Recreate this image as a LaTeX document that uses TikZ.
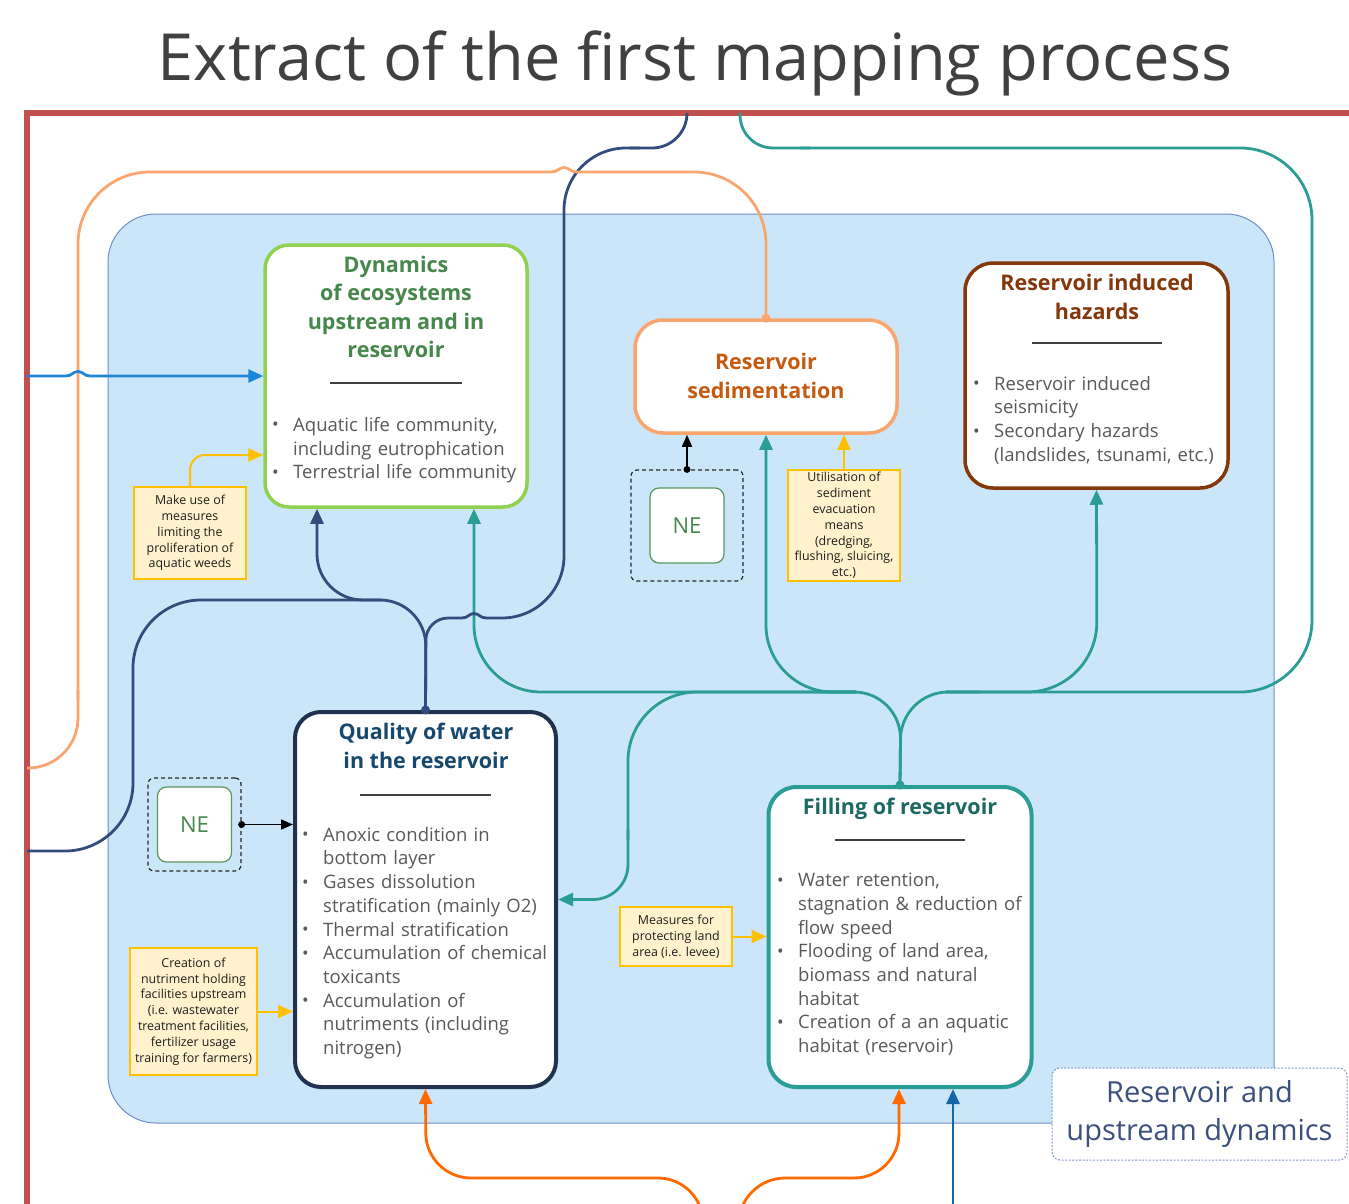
\documentclass[tikz,border=0pt]{standalone}
\usepackage{fontspec}
\setmainfont{Open Sans}
\usetikzlibrary{arrows.meta,calc}

\definecolor{framered}{RGB}{192,80,77}
\definecolor{bgblue}{RGB}{204,230,249}
\definecolor{bgedge}{RGB}{110,140,200}
\definecolor{ecogreen}{RGB}{146,208,80}
\definecolor{ecotext}{RGB}{70,135,75}
\definecolor{sedorange}{RGB}{250,165,110}
\definecolor{sedtext}{RGB}{197,90,17}
\definecolor{hazbrown}{RGB}{132,55,10}
\definecolor{qualnavy}{RGB}{32,50,80}
\definecolor{qualtext}{RGB}{22,72,110}
\definecolor{fillteal}{RGB}{42,157,150}
\definecolor{filltext}{RGB}{28,105,100}
\definecolor{linknavy}{RGB}{50,77,125}
\definecolor{linkblue}{RGB}{27,135,214}
\definecolor{notefill}{RGB}{255,242,204}
\definecolor{noteedge}{RGB}{255,192,0}
\definecolor{notetext}{RGB}{30,30,30}
\definecolor{bodygray}{RGB}{89,89,89}
\definecolor{negreen}{RGB}{90,150,90}
\definecolor{netext}{RGB}{70,135,75}
\definecolor{lowblue}{RGB}{20,104,168}
\definecolor{loworange}{RGB}{255,106,0}
\definecolor{tagtext}{RGB}{60,80,125}
\definecolor{tagedge}{RGB}{130,155,205}
\definecolor{titlegray}{RGB}{64,64,64}

% one bullet line with hanging indent
\newcommand{\bul}[1]{\hangindent=21pt\hangafter=1\noindent\makebox[21pt][l]{\raisebox{0.5pt}{\scalebox{0.95}{\textbullet}}}#1\par}

\begin{document}
\begin{tikzpicture}[x=1pt,y=-1pt,
  box/.style={draw,fill=white,line width=3.5pt,inner sep=0pt},
  head/.style={align=center,font=\fontsize{21.5}{28.5}\selectfont\bfseries},
  items/.style={anchor=north west,inner sep=0pt,text width=280pt,align=left,text=bodygray,font=\fontsize{18.5}{23.7}\selectfont},
  note/.style={draw=noteedge,fill=notefill,line width=1.3pt,inner sep=0pt,align=center,text=notetext,font=\fontsize{12.4}{15.8}\selectfont},
  nebox/.style={draw=negreen,fill=white,line width=1.2pt,rounded corners=9pt,minimum width=74pt,minimum height=75pt,text=netext,font=\fontsize{22}{26}\selectfont},
  neframe/.style={draw=black!85,dash pattern=on 4pt off 3pt,line width=1.2pt,rounded corners=6pt},
  link/.style={line width=2.8pt},
  tip/.style={-{Triangle[length=15pt,width=13pt]}},
  sep/.style={draw=black!75,line width=1.4pt}]
  \path[use as bounding box] (0,0) rectangle (1349,1204);
  \clip (0,0) rectangle (1349,1204);

  \node[anchor=base,text=titlegray,font=\fontsize{65}{78}\selectfont] (title) at (695,81) {Extract of the first mapping process};

  \node[draw=bgedge,fill=bgblue,line width=1pt,rounded corners=48pt,minimum width=1166pt,minimum height=909pt] (zone) at (691,668.5) {};
  \draw[framered,line width=5.5pt] (27,1215) -- (27,113) -- (1360,113);

  % free ends on the frame and below
  \coordinate (frameA) at (27,376);
  \coordinate (frameB) at (27,768);
  \coordinate (frameC) at (27,851);
  \coordinate (frameD) at (687,113);
  \coordinate (frameE) at (740,113);
  \coordinate (lowA) at (703,1240);
  \coordinate (lowB) at (738,1240);
  \coordinate (lowC) at (953,1240);

  % boxes
  \node[box,draw=ecogreen,minimum width=262pt,minimum height=262pt,rounded corners=24pt] (eco) at (396,376) {};
  \node[head,text=ecotext] (ecohead) at (396,307) {Dynamics\\of ecosystems\\upstream and in\\reservoir};
  \draw[sep] (330,383) -- (462,383);
  \node[items] (ecolist) at (272,417) {\bul{Aquatic life community,\newline including eutrophication}\bul{Terrestrial life community}};

  \node[box,draw=sedorange,minimum width=262pt,minimum height=113pt,rounded corners=28pt] (sed) at (766,376.5) {};
  \node[head,text=sedtext] (sedhead) at (766,376) {Reservoir\\sedimentation};

  \node[box,draw=hazbrown,minimum width=263pt,minimum height=225pt,rounded corners=28pt] (haz) at (1096.5,375.5) {};
  \node[head,text=hazbrown] (hazhead) at (1097,297) {Reservoir induced\\hazards};
  \draw[sep] (1032,343) -- (1162,343);
  \node[items] (hazlist) at (973,376) {\bul{Reservoir induced\newline seismicity}\bul{Secondary hazards\newline (landslides, tsunami, etc.)}};

  \node[box,draw=qualnavy,line width=4pt,minimum width=261pt,minimum height=375pt,rounded corners=26pt] (qual) at (425.5,899.5) {};
  \node[head,text=qualtext] (qualhead) at (426,746) {Quality of water\\in the reservoir};
  \draw[sep] (360,795) -- (491,795);
  \node[items] (quallist) at (302,827) {\bul{Anoxic condition in\newline bottom layer}\bul{Gases dissolution\newline stratification (mainly O2)}\bul{Thermal stratification}\bul{Accumulation of chemical\newline toxicants}\bul{Accumulation of\newline nutriments (including\newline nitrogen)}};

  \node[box,draw=fillteal,line width=4pt,minimum width=263pt,minimum height=300pt,rounded corners=28pt] (filling) at (900,937) {};
  \node[head,text=filltext] (fillhead) at (900,809) {Filling of reservoir};
  \draw[sep] (835,840) -- (965,840);
  \node[items] (filllist) at (777,873) {\bul{Water retention,\newline stagnation \& reduction of\newline flow speed}\bul{Flooding of land area,\newline biomass and natural\newline habitat}\bul{Creation of a an aquatic\newline habitat (reservoir)}};

  % NE boxes
  \node[neframe,minimum width=112pt,minimum height=111pt] (neframeA) at (687,525.5) {};
  \node[nebox] (neA) at (687,525.5) {NE};
  \node[neframe,minimum width=93pt,minimum height=93pt] (neframeB) at (194.5,824.5) {};
  \node[nebox] (neB) at (194.5,824.5) {NE};

  % measures
  \node[note,minimum width=112pt,minimum height=92pt] (noteweeds) at (190,533) {Make use of\\measures\\limiting the\\proliferation of\\aquatic weeds};
  \node[note,minimum width=112pt,minimum height=111pt] (notesed) at (844,525.5) {Utilisation of\\sediment\\evacuation\\means\\(dredging,\\flushing, sluicing,\\etc.)};
  \node[note,minimum width=127pt,minimum height=127pt] (notenut) at (193.5,1011.5) {Creation of\\nutriment holding\\facilities upstream\\(i.e. wastewater\\treatment facilities,\\fertilizer usage\\training for farmers)};
  \node[note,minimum width=112pt,minimum height=59pt] (notelevee) at (676,936.5) {Measures for\\protecting land\\area (i.e. levee)};

  \node[draw=tagedge,fill=white,dash pattern=on 2pt off 1.5pt,line width=1pt,rounded corners=8pt,minimum width=295pt,minimum height=92pt,align=center,text=tagtext,font=\fontsize{29}{38.5}\selectfont] (zonetag) at (1199.5,1114) {Reservoir and\\upstream dynamics};

  % teal links from filling
  \draw[fillteal,link,rounded corners=47pt] (filling.north) -- (901,692) -- (820,692);
  \draw[fillteal,link,rounded corners=47pt] (filling.north) -- (901,692) -- (980,692);
  \draw[fillteal,link,tip,rounded corners=67pt] (856,692) -- (474,692) -- (474,0 |- eco.south);
  \draw[fillteal,link,tip,rounded corners=67pt] (856,692) -- (766,692) -- (sed.south);
  \draw[fillteal,link,rounded corners=69pt] (856,692) -- (628,692) -- (628,840);
  \draw[fillteal,link,tip,rounded corners=35pt] (628,830) -- (qual.east -| 628,0) -- (qual.east);
  \draw[fillteal,link,tip,rounded corners=70pt] (946,692) -- (1097,692) -- (haz.south);
  \draw[fillteal,link,rounded corners=72pt] (946,692) -- (1312,692) -- (1312,148) -- (800,148);
  \draw[fillteal,link,rounded corners=33pt] (810,148) -- (740,148) -- (frameE);
  \fill[fillteal] (filling.north) circle (4.5pt);

  % navy links from quality
  \draw[linknavy,link,tip,rounded corners=46pt] (qual.north) -- (426,600) -- (317,600) -- (317,0 |- eco.south);
  \draw[linknavy,link,rounded corners=68pt] (381,600) -- (133,600) -- (133,851) -- (frameC);
  \draw[linknavy,link,rounded corners=22pt] (qual.north) -- (426,618) -- (462,618);
  \draw[linknavy,link] (462,618) .. controls (468,618) and (469,613.5) .. (474,613.5) .. controls (479,613.5) and (480,618) .. (486,618);
  \draw[linknavy,link,rounded corners=62pt] (486,618) -- (564,618) -- (564,148) -- (640,148);
  \draw[linknavy,link,rounded corners=35pt] (630,148) -- (687,148) -- (frameD);
  \fill[linknavy] (qual.north) circle (4.5pt);

  % orange link from sedimentation
  \draw[sedorange,link,rounded corners=72pt] (sed.north) -- (766,172) -- (577,172);
  \draw[sedorange,link] (577,172) .. controls (570,172) and (569,167.5) .. (564,167.5) .. controls (559,167.5) and (558,172) .. (551,172);
  \draw[sedorange,link,rounded corners=72pt] (551,172) -- (78,172) -- (78,700);
  \draw[sedorange,link,rounded corners=50pt] (78,690) -- (78,768) -- (frameB);
  \fill[sedorange] (sed.north) circle (4.5pt);

  % blue link into ecosystems
  \draw[linkblue,link,tip] (frameA) -- (66,376) .. controls (72,376) and (73,371.5) .. (78,371.5) .. controls (83,371.5) and (84,376) .. (90,376) -- (eco.west);

  % measures and NE arrows
  \draw[noteedge,line width=2pt,tip,rounded corners=15pt] (noteweeds.north) -- (190,455) -- (eco.west |- 0,455);
  \draw[noteedge,line width=2pt,tip] (notesed.north) -- (notesed.north |- sed.south);
  \draw[noteedge,line width=2pt,tip] (notenut.east) -- (notenut.east -| qual.west);
  \draw[noteedge,line width=2pt,tip] (notelevee.east) -- (notelevee.east -| filling.west);
  \draw[black,line width=1.5pt,-{Triangle[length=12pt,width=10pt]}] (neframeA.north) -- (neframeA.north |- sed.south);
  \fill (neframeA.north) circle (3.5pt);
  \draw[black,line width=1.5pt,-{Triangle[length=12pt,width=10pt]}] (neframeB.east) -- (neframeB.east -| qual.west);
  \fill (neframeB.east) circle (3.5pt);

  % links from below
  \draw[loworange,link,tip,rounded corners=45pt] (lowA) -- (703,1178) -- (426,1178) -- (qual.south);
  \draw[loworange,link,tip,rounded corners=45pt] (lowB) -- (740,1178) -- (899,1178) -- (899,0 |- filling.south);
  \draw[lowblue,link,tip] (lowC) -- (lowC |- filling.south);
\end{tikzpicture}
\end{document}
